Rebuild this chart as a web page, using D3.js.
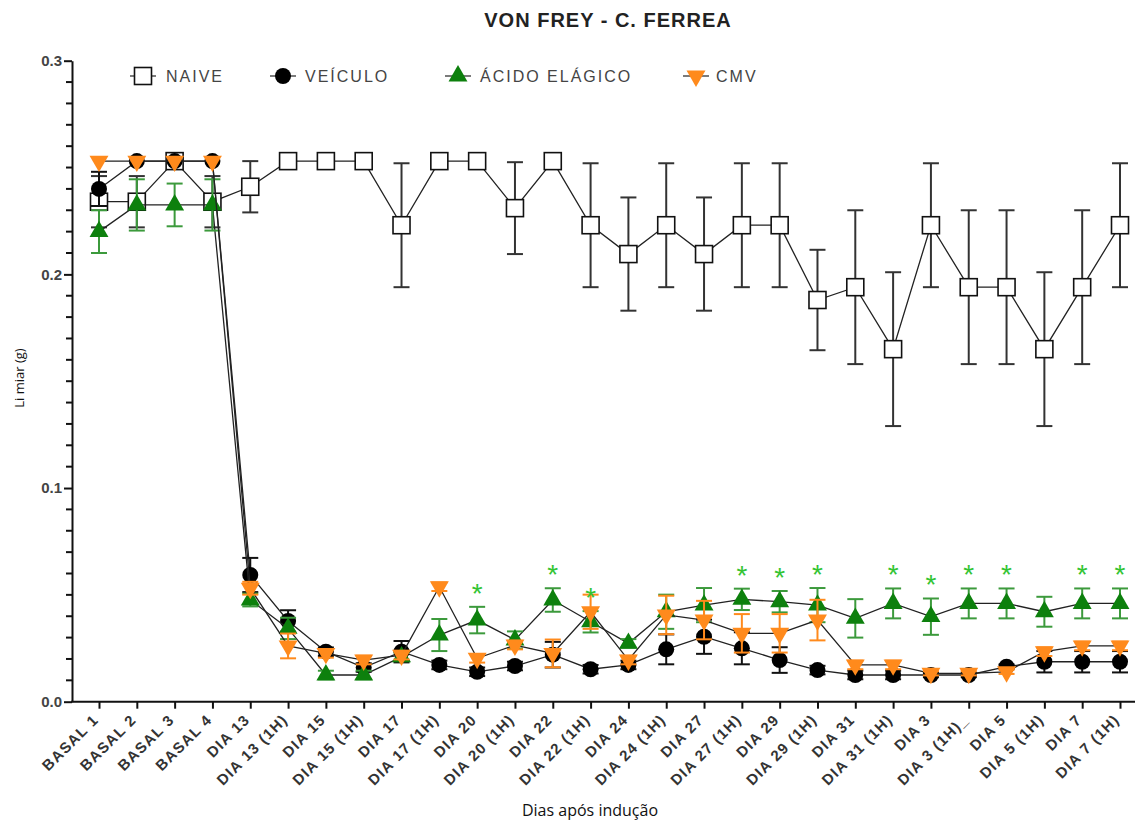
<!DOCTYPE html>
<html><head><meta charset="utf-8">
<script src="https://cdn.jsdelivr.net/npm/d3@7"></script>
<style>
html,body{margin:0;padding:0;background:#fff;}
svg{display:block;font-family:"Liberation Sans",Arial,sans-serif;}
</style></head>
<body>
<svg id="chart" width="1135" height="822"></svg>
<script>
const categories = ["BASAL 1","BASAL 2","BASAL 3","BASAL 4","DIA 13","DIA 13 (1H)","DIA 15","DIA 15 (1H)","DIA 17","DIA 17 (1H)","DIA 20","DIA 20 (1H)","DIA 22","DIA 22 (1H)","DIA 24","DIA 24 (1H)","DIA 27","DIA 27 (1H)","DIA 29","DIA 29 (1H)","DIA 31","DIA 31 (1H)","DIA 3","DIA 3 (1H)_","DIA 5","DIA 5 (1H)","DIA 7","DIA 7 (1H)"];

const naive    = [0.234,0.234,0.253,0.234,0.241,0.253,0.253,0.253,0.223,0.253,0.253,0.231,0.253,0.223,0.2095,0.223,0.2095,0.223,0.223,0.188,0.194,0.165,0.223,0.194,0.194,0.165,0.194,0.223];
const naiveErr = [0.012,0.012,0,0.012,0.012,0,0,0,0.029,0,0,0.0215,0,0.029,0.0265,0.029,0.0265,0.029,0.029,0.0235,0.036,0.036,0.029,0.036,0.036,0.036,0.036,0.029];

const veiculo    = [0.240,0.253,0.253,0.253,0.0593,0.0378,0.0234,0.016,0.0234,0.0172,0.014,0.0167,0.022,0.0152,0.0172,0.0245,0.0304,0.025,0.0195,0.0148,0.0125,0.0125,0.0125,0.0125,0.0164,0.0187,0.0187,0.0187];
const veiculoErr = [0.008,0,0,0,0.008,0.005,0.002,0.002,0.005,0.002,0.002,0.002,0.006,0.002,0.002,0.007,0.008,0.0075,0.006,0.002,0.002,0.002,0.001,0.001,0.001,0.005,0.005,0.005];

const acido    = [0.220,0.2325,0.2325,0.2325,0.0476,0.0343,0.0125,0.0125,0.021,0.0312,0.0382,0.0289,0.0476,0.0374,0.0273,0.0421,0.0452,0.0479,0.0468,0.0452,0.039,0.046,0.0398,0.046,0.046,0.0421,0.046,0.046];
const acidoErr = [0.01,0.012,0.01,0.012,0.003,0.005,0.002,0.002,0.002,0.0075,0.0062,0.004,0.0055,0.005,0.002,0.008,0.008,0.005,0.005,0.008,0.009,0.007,0.0085,0.007,0.007,0.007,0.007,0.007];

const cmv    = [0.253,0.253,0.253,0.253,0.0531,0.0261,0.0226,0.0195,0.0218,0.0538,0.0203,0.0265,0.0226,0.0421,0.0195,0.0406,0.0382,0.032,0.032,0.0382,0.0172,0.0172,0.0133,0.0133,0.014,0.0234,0.0261,0.0261];
const cmvErr = [0,0,0,0,0.003,0.0058,0.002,0.002,0.002,0.002,0.002,0.002,0.0065,0.008,0.002,0.009,0.009,0.009,0.009,0.0095,0.002,0.002,0.001,0.001,0.001,0.002,0.002,0.002];

const starCats = ["DIA 20","DIA 22","DIA 22 (1H)","DIA 27 (1H)","DIA 29","DIA 29 (1H)","DIA 31 (1H)","DIA 3","DIA 3 (1H)_","DIA 5","DIA 7","DIA 7 (1H)"];

const yTicks = [0,0.1,0.2,0.3];
const seriesNames = ["NAIVE","VEÍCULO","ÁCIDO ELÁGICO","CMV"];

const svg = d3.select("#chart");
const x = d3.scalePoint().domain(categories).range([99,1120]);
const y = d3.scaleLinear().domain([0,0.3]).range([701.7,60.7]);

const GREEN = "#0d800d", GREEN_ERR = "#3c9a3c", ORANGE = "#ff8a1c", STAR = "#33c433";

const series = [
  {name:seriesNames[0], vals:naive, err:naiveErr, sym:"square", fill:"#fff", stroke:"#111", errColor:"#333"},
  {name:seriesNames[1], vals:veiculo, err:veiculoErr, sym:"circle", fill:"#000", stroke:"#000", errColor:"#111"},
  {name:seriesNames[2], vals:acido, err:acidoErr, sym:"up", fill:GREEN, stroke:GREEN, errColor:GREEN_ERR},
  {name:seriesNames[3], vals:cmv, err:cmvErr, sym:"down", fill:ORANGE, stroke:ORANGE, errColor:ORANGE}
];

function drawSymbol(g, s, cx, cy){
  if (s.sym==="square"){
    g.append("rect").attr("x",cx-8.5).attr("y",cy-8.5).attr("width",17).attr("height",17)
     .attr("fill",s.fill).attr("stroke",s.stroke).attr("stroke-width",1.6);
  } else if (s.sym==="circle"){
    g.append("circle").attr("cx",cx).attr("cy",cy).attr("r",8).attr("fill",s.fill);
  } else {
    const rot = s.sym==="down" ? 180 : 0;
    g.append("path").attr("d",d3.symbol(d3.symbolTriangle,155)())
     .attr("transform",`translate(${cx},${cy}) rotate(${rot})`).attr("fill",s.fill);
  }
}

// Title
svg.append("text").attr("x",608).attr("y",27).attr("text-anchor","middle")
  .attr("font-size",20).attr("font-weight","bold").attr("fill","#222").attr("letter-spacing",1)
  .text("VON FREY - C. FERREA");

// Y axis
const yAxis = d3.axisLeft(y).tickValues(yTicks).tickFormat(d3.format(".1f")).tickSize(8).tickSizeOuter(0);
const gy = svg.append("g").attr("transform","translate(72,0)").call(yAxis);
gy.select(".domain").attr("stroke","#111").attr("stroke-width",2);
gy.selectAll(".tick line").attr("stroke","#111").attr("stroke-width",2);
gy.selectAll(".tick text").attr("font-size",15).attr("font-weight","bold").attr("fill","#444")
  .attr("font-family","'Liberation Sans',Arial,sans-serif").attr("x",-10);
const minor = d3.range(1,30).filter(i=>i%10!==0).map(i=>i/100);
svg.append("g").selectAll("line").data(minor).join("line")
  .attr("x1",66).attr("x2",72).attr("y1",d=>y(d)).attr("y2",d=>y(d))
  .attr("stroke","#111").attr("stroke-width",2);

// X axis
const xAxis = d3.axisBottom(x).tickSize(7).tickSizeOuter(0);
const gx = svg.append("g").attr("transform",`translate(0,${y(0)})`).call(xAxis);
gx.select(".domain").remove();
gx.selectAll(".tick line").attr("stroke","#111").attr("stroke-width",2);
gx.selectAll(".tick text").attr("font-size",15).attr("font-weight","bold").attr("fill","#333")
  .attr("letter-spacing",1.2)
  .attr("font-family","'Liberation Sans',Arial,sans-serif")
  .attr("text-anchor","end").attr("dy",0).attr("y",0)
  .attr("transform","translate(0,19) rotate(-45)");
svg.append("line").attr("x1",71).attr("x2",1135).attr("y1",y(0)).attr("y2",y(0))
  .attr("stroke","#111").attr("stroke-width",2);

// Axis titles
svg.append("text").attr("transform","translate(24,378) rotate(-90)").attr("text-anchor","middle")
  .attr("font-size",13).attr("fill","#111").attr("font-family","'Open Sans',sans-serif").text("Li miar (g)");
svg.append("text").attr("x",590).attr("y",816).attr("text-anchor","middle")
  .attr("font-size",16).attr("fill","#111").attr("font-family","'Open Sans',sans-serif").text("Dias após indução");

// Series
const line = d3.line().x((d,i)=>x(categories[i])).y(d=>y(d));
series.forEach(s=>{
  const g = svg.append("g");
  g.append("path").attr("d",line(s.vals)).attr("fill","none").attr("stroke","#222").attr("stroke-width",1.3);
  s.vals.forEach((v,i)=>{
    const e = s.err[i];
    if (e>0){
      const cx = x(categories[i]);
      g.append("line").attr("x1",cx).attr("x2",cx).attr("y1",y(v+e)).attr("y2",y(v-e))
        .attr("stroke",s.errColor).attr("stroke-width",2);
      [v+e,v-e].forEach(b=>g.append("line").attr("x1",cx-8).attr("x2",cx+8).attr("y1",y(b)).attr("y2",y(b))
        .attr("stroke",s.errColor).attr("stroke-width",2));
    }
  });
  s.vals.forEach((v,i)=>drawSymbol(g,s,x(categories[i]),y(v)));
});

// Significance stars
svg.append("g").selectAll("text").data(starCats).join("text")
  .attr("x",d=>x(d)).attr("y",d=>{const i=categories.indexOf(d); return y(acido[i]+acidoErr[i])-18+14;})
  .attr("text-anchor","middle").attr("font-size",28).attr("fill",STAR).text("*");

// Legend
const legendX = [143,283,458,696];
const legendTextX = [166,305,480,716];
series.forEach((s,i)=>{
  const g = svg.append("g");
  g.append("line").attr("x1",legendX[i]-13).attr("x2",legendX[i]+13).attr("y1",76).attr("y2",76)
    .attr("stroke","#333").attr("stroke-width",1.3);
  drawSymbol(g,s,legendX[i],76);
  g.append("text").attr("x",legendTextX[i]).attr("y",82).attr("font-size",16).attr("fill","#444")
    .attr("letter-spacing",2)
    .attr("font-family","'Liberation Sans',Arial,sans-serif").text(s.name);
});
</script>
</body></html>
